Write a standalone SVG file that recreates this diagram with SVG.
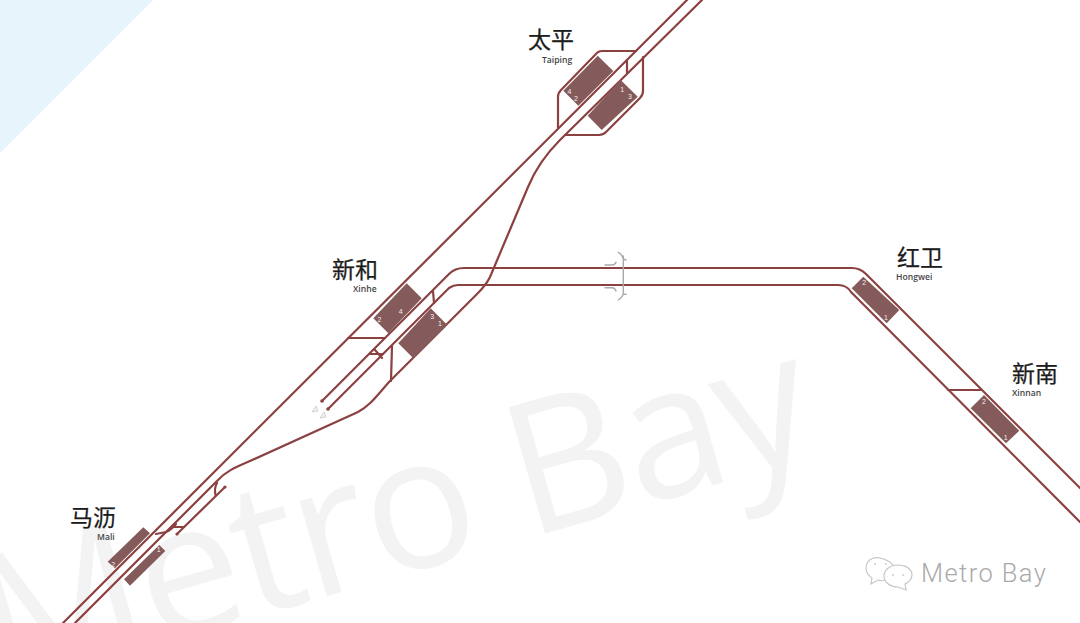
<svg xmlns="http://www.w3.org/2000/svg" width="1080" height="623" viewBox="0 0 1080 623">
<style>
.t{fill:none;stroke:#8c4141;stroke-width:2.2;stroke-linecap:round;stroke-linejoin:round}
.e{fill:#8c4141}
.s{fill:#845a5a}
.n{font:500 7px "Liberation Sans",sans-serif;fill:#f4eeee;text-anchor:middle}
.zh{font:400 23px "Noto Sans CJK SC",sans-serif;fill:#1c1c1c;stroke:#1c1c1c;stroke-width:.25}
.en{font:600 8.6px "Open Sans","Liberation Sans",sans-serif;fill:#444}
.g{fill:none;stroke:#a9a9a9;stroke-width:1.4;stroke-linecap:round;stroke-linejoin:round}
.m{fill:#f2f2f2;stroke:#c8c8c8;stroke-width:.8;stroke-linejoin:round}
.w{fill:none;stroke:#c4c4c4;stroke-width:1.1}
</style>
<rect width="1080" height="623" fill="#fff"/>
<polygon points="0,0 153,0 0,153" fill="#e6f4fc"/>
<text transform="translate(-1,690) rotate(-16)" font-family="'Open Sans',sans-serif" font-weight="400" font-size="184" letter-spacing="-3" fill="#f3f3f3">Metro Bay</text>
<g id="connectors">
<path class="t" d="M687,0L63,623"/>
<path class="t" d="M702,0L560,140C545,155 535,170 528,187L490,277C486,285 482,289 478,293L390,381C378,394 370,406 358,412L250,461C236,467 226,471 217,481L75,623"/>
<path class="t" d="M322,401L449,274C454,269 458,268 464,268H852C858,268 862,270 866,274L1080,488"/>
<path class="t" d="M328,409L449,288C452,286 454,285 458,285H838C844,285 848,287 851,292L1080,522"/>
<path class="t" d="M225,487L177,534"/>
<path class="t" d="M558,128V97Q558,93 561,90L595,55Q598,51 602,51H636"/>
<path class="t" d="M643,57V91Q643,95 640,98L606,132Q603,135 599,135H565"/>
<path class="t" d="M627,60V73"/>
<path class="t" d="M348,338H385"/>
<path class="t" d="M370,354H383M375,350L382,358"/>
<path class="t" d="M392,346L391,381"/>
<path class="t" d="M433,291L434,303"/>
<path class="t" d="M948,390H982"/>
<path class="t" d="M217,483Q214,488 215.500,495"/>
<path class="t" d="M156,534L166,532Q171,530 176,524M172,527L184,527"/>
<circle class="e" cx="322" cy="401" r="1.800"/><circle class="e" cx="328" cy="409" r="1.800"/>
<circle class="e" cx="225" cy="487" r="1.600"/><circle class="e" cx="177" cy="534" r="1.600"/>
</g>
<g id="sign">
<path class="g" d="M623.300,256V294M618.300,252.300Q622,254 623.300,259L626,260M618.300,300Q622,298 623.300,294.300H626"/>
<path class="g" d="M605,265H612Q615,265 616,262.300M605,287.700H612Q615,287.700 616,291"/>
<path class="m" d="M312,412L316,406L318,411ZM320,418L324,412L326,417Z"/>
</g>
<g id="taiping">
<polygon class="s" points="597.700,55.700 613.300,71 578.300,105.700 563.300,90.700"/>
<polygon class="s" points="620.700,80 637.700,96.700 601.700,130 587.700,115.700"/>
<text class="n" x="569.500" y="93.500">4</text><text class="n" x="576" y="101">2</text><text class="n" x="622.300" y="91.500">1</text><text class="n" x="630" y="98.500">3</text>
<text class="zh" x="528" y="48">太平</text><text class="en" x="542" y="63">Taiping</text>
</g>
<g id="xinhe">
<polygon class="s" points="406.700,283.300 421.700,298.300 388.300,333.300 373.300,318.300"/>
<polygon class="s" points="430.700,308.300 447.300,325 413.300,358.300 398.300,343.300"/>
<text class="n" x="379.500" y="321.500">2</text><text class="n" x="400.700" y="313.500">4</text><text class="n" x="432.300" y="319">3</text><text class="n" x="440" y="325.500">1</text>
<text class="zh" x="332" y="278">新和</text><text class="en" x="353" y="292">Xinhe</text>
</g>
<g id="mali">
<polygon class="s" points="143.300,527.300 150,533.300 115,568.300 107.700,561.700"/>
<polygon class="s" points="159.300,545 165.300,551 130,585.700 124,579.300"/>
<text class="n" x="113.300" y="567">2</text><text class="n" x="158.700" y="552">1</text>
<text class="zh" x="70" y="526">马沥</text><text class="en" x="97" y="540">Mali</text>
</g>
<g id="hongwei">
<polygon class="s" points="863.300,276.700 899.300,310 886.700,323.300 851.700,288.300"/>
<text class="n" x="864.300" y="284.500">2</text><text class="n" x="886" y="320">1</text>
<text class="zh" x="897" y="266">红卫</text><text class="en" x="896" y="280">Hongwei</text>
</g>
<g id="xinnan">
<polygon class="s" points="984,395 1019.300,430.700 1006,443.300 970.700,408.300"/>
<text class="n" x="984" y="404">2</text><text class="n" x="1005.700" y="440">1</text>
<text class="zh" x="1012" y="382">新南</text><text class="en" x="1012" y="396">Xinnan</text>
</g>
<g id="logo">
<path class="w" d="M880,558C871,556 866,562 866,568C866,573 869,576 872,578L871,584L878,580C881,581 883,581 885,580"/>
<path class="w" d="M880,558C886,559 892,563 894,566"/>
<path class="w" d="M898,565C890,565 884,570 884,576C884,582 890,587 898,587L906,590L905,584C909,582 912,579 912,575C912,569 906,565 898,565Z"/>
<circle cx="875" cy="564" r="1" fill="#ccc"/><circle cx="886" cy="564" r="1" fill="#ccc"/><circle cx="893" cy="575" r="1" fill="#ccc"/><circle cx="903" cy="575" r="1" fill="#ccc"/>
<text x="921" y="582" font-family="Roboto,sans-serif" font-weight="300" font-size="25.500" letter-spacing="1.400" fill="#aaa">Metro Bay</text>
</g>
</svg>
